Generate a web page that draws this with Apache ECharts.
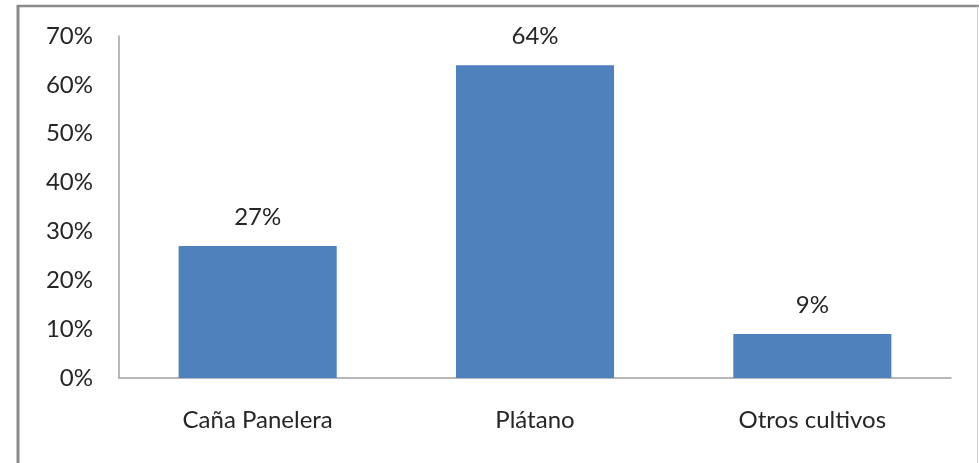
<!DOCTYPE html>
<html><head><meta charset="utf-8">
<script src="https://cdn.jsdelivr.net/npm/echarts@6/dist/echarts.min.js"></script>
<style>html,body{margin:0;padding:0;background:#fff}#c{width:979px;height:463px}</style>
</head><body><div id="c"></div>
<script>
const categories = ['Caña Panelera', 'Plátano', 'Otros cultivos'];
const values = [27, 64, 9];
const yTicks = [0, 10, 20, 30, 40, 50, 60, 70];

const chart = echarts.init(document.getElementById('c'), null, {renderer: 'canvas'});
const font = 'Lato';
const fs = 24;
chart.setOption({
  animation: false,
  backgroundColor: '#fff',
  graphic: [
    {type: 'line', shape: {x1: 18, y1: 5, x2: 18, y2: 463}, style: {stroke: '#8a8a8a', lineWidth: 3}},
    {type: 'line', shape: {x1: 17, y1: 6, x2: 979, y2: 6}, style: {stroke: '#8a8a8a', lineWidth: 2.5}},
    {type: 'line', shape: {x1: 977.5, y1: 6, x2: 977.5, y2: 463}, style: {stroke: '#d4d4d4', lineWidth: 1}}
  ],
  grid: {left: 119, right: 28, top: 36, bottom: 85},
  xAxis: {
    type: 'category', data: categories,
    axisLine: {lineStyle: {color: '#a0a0a0', width: 1.5}},
    axisTick: {show: false},
    axisLabel: {color: '#262626', fontFamily: font, fontSize: fs, margin: 30}
  },
  yAxis: {
    type: 'value', min: yTicks[0], max: yTicks[yTicks.length - 1], interval: 10,
    axisLine: {show: true, lineStyle: {color: '#a0a0a0', width: 1.5}},
    axisTick: {show: false},
    splitLine: {show: false},
    axisLabel: {color: '#262626', fontFamily: font, fontSize: fs, margin: 26, formatter: v => v + '%'}
  },
  series: [{
    type: 'bar', data: values, barWidth: '57%',
    itemStyle: {color: '#4F81BD'},
    label: {show: true, position: 'top', distance: 17, color: '#262626', fontFamily: font, fontSize: fs, formatter: p => p.value + '%'}
  }]
});
</script></body></html>
